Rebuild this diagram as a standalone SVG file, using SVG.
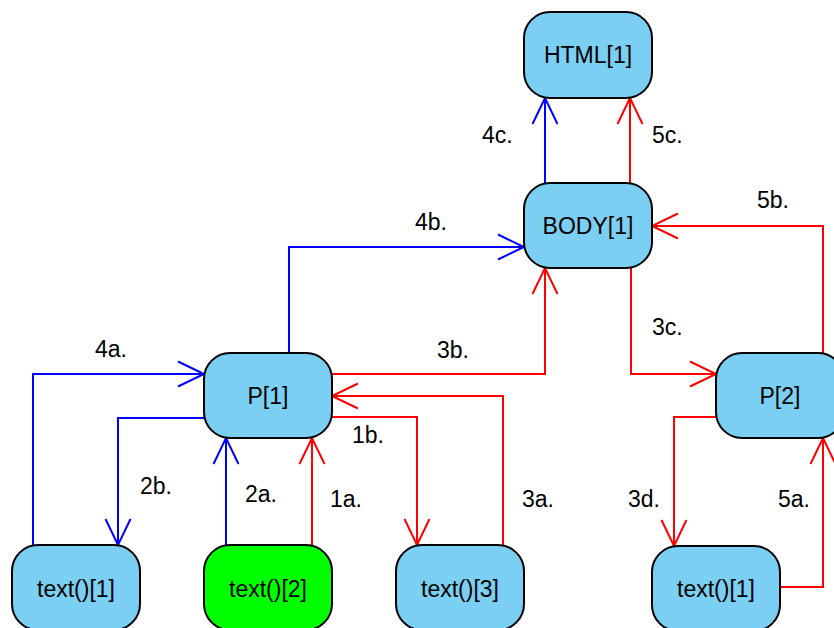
<svg xmlns="http://www.w3.org/2000/svg" width="834" height="628" viewBox="0 0 834 628">
<defs>
<style>
.node rect{fill:#7acff3;stroke:#000;stroke-width:2}
.node.hl rect{fill:#00ff00}
.node text{font-family:"Liberation Sans",Arial,sans-serif;font-size:23px;fill:#000;text-anchor:middle}
.lbl{font-family:"Liberation Sans",Arial,sans-serif;font-size:23px;fill:#000}
.e{fill:none;stroke-width:2}
.b{stroke:#0000ff}
.r{stroke:#ff0000}
</style>
<marker id="ab" markerUnits="userSpaceOnUse" viewBox="-27 -14 30 28" refX="0" refY="0" markerWidth="30" markerHeight="28" orient="auto">
<path d="M-26,-12.5 L0,0 L-26,12.5" fill="none" stroke="#0000ff" stroke-width="2"/>
</marker>
<marker id="ar" markerUnits="userSpaceOnUse" viewBox="-27 -14 30 28" refX="0" refY="0" markerWidth="30" markerHeight="28" orient="auto">
<path d="M-26,-12.5 L0,0 L-26,12.5" fill="none" stroke="#ff0000" stroke-width="2"/>
</marker>
</defs>
<rect width="834" height="628" fill="#fff"/>
<g id="connectors">
<path class="e b" d="M545,183 V98" marker-end="url(#ab)"/>
<path class="e r" d="M630,183 V98" marker-end="url(#ar)"/>
<path class="e b" d="M289,353 V247 H524" marker-end="url(#ab)"/>
<path class="e r" d="M332,374 H545 V268" marker-end="url(#ar)"/>
<path class="e r" d="M503,545 V396 H332" marker-end="url(#ar)"/>
<path class="e r" d="M332,417 H417 V545" marker-end="url(#ar)"/>
<path class="e r" d="M312,545 V438" marker-end="url(#ar)"/>
<path class="e b" d="M226,545 V438" marker-end="url(#ab)"/>
<path class="e b" d="M204,418 H118 V545" marker-end="url(#ab)"/>
<path class="e b" d="M33,545 V374 H204" marker-end="url(#ab)"/>
<path class="e r" d="M823,353 V226 H652" marker-end="url(#ar)"/>
<path class="e r" d="M631,268 V374 H716" marker-end="url(#ar)"/>
<path class="e r" d="M716,417 H674 V546" marker-end="url(#ar)"/>
<path class="e r" d="M780,587 H823 V438" marker-end="url(#ar)"/>
</g>
<g id="labels">
<text class="lbl" x="482" y="143">4c.</text>
<text class="lbl" x="652" y="143">5c.</text>
<text class="lbl" x="415" y="230">4b.</text>
<text class="lbl" x="757" y="208">5b.</text>
<text class="lbl" x="437" y="358">3b.</text>
<text class="lbl" x="652" y="335">3c.</text>
<text class="lbl" x="95" y="357">4a.</text>
<text class="lbl" x="352" y="443">1b.</text>
<text class="lbl" x="140" y="494">2b.</text>
<text class="lbl" x="245" y="502">2a.</text>
<text class="lbl" x="330" y="507">1a.</text>
<text class="lbl" x="522" y="507">3a.</text>
<text class="lbl" x="628" y="507">3d.</text>
<text class="lbl" x="778" y="507">5a.</text>
</g>
<g id="html1" class="node"><rect x="524" y="12" width="128" height="86" rx="26"/><text x="588" y="63">HTML[1]</text></g>
<g id="body1" class="node"><rect x="524" y="183" width="128" height="85" rx="26"/><text x="588" y="234">BODY[1]</text></g>
<g id="p1" class="node"><rect x="204" y="353" width="128" height="85" rx="26"/><text x="268" y="404">P[1]</text></g>
<g id="p2" class="node"><rect x="716" y="353" width="128" height="85" rx="26"/><text x="780" y="404">P[2]</text></g>
<g id="text1" class="node"><rect x="12" y="545" width="128" height="85" rx="26"/><text x="76" y="597">text()[1]</text></g>
<g id="text2" class="node hl"><rect x="204" y="545" width="128" height="85" rx="26"/><text x="268" y="597">text()[2]</text></g>
<g id="text3" class="node"><rect x="396" y="545" width="128" height="85" rx="26"/><text x="460" y="597">text()[3]</text></g>
<g id="p2text1" class="node"><rect x="652" y="546" width="128" height="85" rx="26"/><text x="716" y="597">text()[1]</text></g>
</svg>
